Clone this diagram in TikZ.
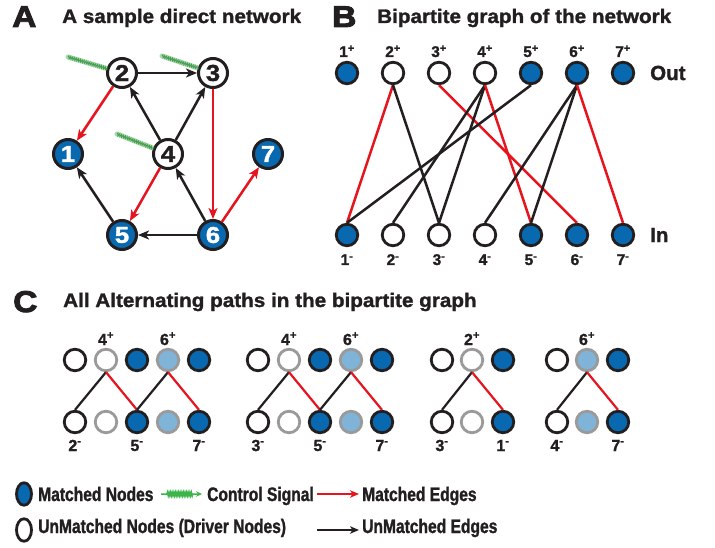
\documentclass[tikz,border=0pt]{standalone}
\usepackage{fontspec}
\setmainfont{Liberation Sans}[BoldFeatures={FakeBold=1.3}]
\newfontfamily\legfont{Liberation Sans}[FakeStretch=0.8,BoldFeatures={FakeBold=1.3}]
\newfontfamily\ttlfont{Liberation Sans}[FakeStretch=1.06,BoldFeatures={FakeBold=1.4}]
\newfontfamily\bigfont{Liberation Sans}[FakeStretch=1.12,BoldFeatures={FakeBold=1.6}]
\newfontfamily\letfont{Liberation Sans}[FakeStretch=1.12,BoldFeatures={FakeBold=3}]
\usetikzlibrary{arrows.meta,decorations.pathmorphing,shapes.geometric}
\definecolor{mblue}{HTML}{0868B0}
\definecolor{lblue}{HTML}{7FB3D8}
\definecolor{mred}{HTML}{E6141E}
\definecolor{mgreen}{HTML}{3DB54A}
\definecolor{mgray}{HTML}{9A9A9A}
\definecolor{ink}{HTML}{231F20}
\begin{document}
\begin{tikzpicture}[x=1pt,y=-1pt,
  every node/.style={text=ink},
  panelletter/.style={anchor=base west,inner sep=0pt,font=\letfont\fontsize{30}{30}\selectfont\bfseries},
  paneltitle/.style={anchor=base west,inner sep=0pt,font=\ttlfont\fontsize{19.5}{19.5}\selectfont\bfseries},
  anode/.style={circle,draw=ink,line width=3pt,minimum size=29pt,inner sep=0pt,font=\bigfont\fontsize{23}{23}\selectfont\bfseries},
  awhite/.style={anode,fill=white},
  ablue/.style={anode,fill=mblue,text=white},
  aedge/.style={draw=ink,line width=2.5pt,-{Stealth[length=11pt,width=9pt,inset=3pt]}},
  aredge/.style={aedge,draw=mred,-{Stealth[length=11pt,width=9pt,inset=3pt,fill=mred]}},
  ctrlblur/.style={line width=5pt,draw=mgreen,opacity=0.45,line cap=round,shorten >=1pt},
  ctrlzig/.style={line width=0.9pt,draw=mgreen!75!black,opacity=0.75,decorate,
     decoration={zigzag,segment length=2pt,amplitude=1.3pt},shorten >=1pt},
  bnode/.style={circle,line width=2.8pt,minimum size=21.5pt,inner sep=0pt},
  bb/.style={bnode,fill=mblue,draw=ink},
  bw/.style={bnode,fill=white,draw=ink},
  gw/.style={bnode,fill=white,draw=mgray},
  gl/.style={bnode,fill=lblue,draw=mgray},
  blabel/.style={anchor=base,inner sep=0pt,font=\fontsize{15.5}{15.5}\selectfont\bfseries},
  clabel/.style={anchor=base,inner sep=0pt,font=\fontsize{16}{16}\selectfont\bfseries},
  iolabel/.style={anchor=west,inner sep=0pt,font=\fontsize{20.5}{20.5}\selectfont\bfseries},
  bedge/.style={draw=ink,line width=2.5pt},
  bredge/.style={draw=mred,line width=2.5pt},
  cedge/.style={draw=ink,line width=2.2pt},
  credge/.style={draw=mred,line width=2.2pt},
  legnode/.style={ellipse,draw=ink,line width=2.8pt,minimum width=15pt,minimum height=22.5pt,inner sep=0pt},
  legtext/.style={anchor=base west,inner sep=0pt,font=\legfont\fontsize{19.5}{19.5}\selectfont\bfseries},
]
\useasboundingbox[fill=white] (0,0) rectangle (715,548);

% ---------- Panel A ----------
\node[panelletter] (pa) at (12,27) {A};
\node[paneltitle] (ta) at (62,23) {A sample direct network};
\node[ablue]  (n1) at (68,154) {1};
\node[awhite] (n2) at (122,73) {2};
\node[awhite] (n3) at (213,73) {3};
\node[awhite] (n4) at (168,154) {4};
\node[ablue]  (n5) at (122,235) {5};
\node[ablue]  (n6) at (213,235) {6};
\node[ablue]  (n7) at (268,154) {7};
\draw[aedge]  (n2) -- (n3);
\draw[aredge] (n2) -- (n1);
\draw[aedge]  (n4) -- (n2);
\draw[aedge]  (n4) -- (n3);
\draw[aredge] (n3) -- (n6);
\draw[aredge] (n4) -- (n5);
\draw[aedge]  (n6) -- (n4);
\draw[aedge]  (n6) -- (n5);
\draw[aedge]  (n5) -- (n1);
\draw[aredge] (n6) -- (n7);
\coordinate (g2) at (68,57);
\coordinate (g3) at (162,56);
\coordinate (g4) at (117,134);
\draw[ctrlblur] (g2) -- (n2); \draw[ctrlzig] (g2) -- (n2);
\draw[ctrlblur] (g3) -- (n3); \draw[ctrlzig] (g3) -- (n3);
\draw[ctrlblur] (g4) -- (n4); \draw[ctrlzig] (g4) -- (n4);

% ---------- Panel B ----------
\node[panelletter] (pb) at (332,27) {B};
\node[paneltitle] (tb) at (377,23) {Bipartite graph of the network};
\node[bb] (t1) at (347,73) {};
\node[bw] (t2) at (393,73) {};
\node[bw] (t3) at (439,73) {};
\node[bw] (t4) at (485,73) {};
\node[bb] (t5) at (531,73) {};
\node[bb] (t6) at (577,73) {};
\node[bb] (t7) at (623,73) {};
\node[bb] (b1) at (347,235) {};
\node[bw] (b2) at (393,235) {};
\node[bw] (b3) at (439,235) {};
\node[bw] (b4) at (485,235) {};
\node[bb] (b5) at (531,235) {};
\node[bb] (b6) at (577,235) {};
\node[bb] (b7) at (623,235) {};
\foreach \i/\x in {1/347,2/393,3/439,4/485,5/531,6/577,7/623}{
  \node[blabel] (lt\i) at (\x,57) {\i\textsuperscript{+}};
  \node[blabel] (lb\i) at (\x,265) {\i\textsuperscript{-}};
}
\node[iolabel] (out) at (650,73) {Out};
\node[iolabel] (in) at (650,235) {In};
\draw[bredge] (t2.south) -- (b1.north);
\draw[bedge]  (t2.south) -- (b3.north);
\draw[bredge] (t3.south) -- (b6.north);
\draw[bedge]  (t4.south) -- (b2.north);
\draw[bedge]  (t4.south) -- (b3.north);
\draw[bredge] (t4.south) -- (b5.north);
\draw[bedge]  (t5.south) -- (b1.north);
\draw[bedge]  (t6.south) -- (b4.north);
\draw[bedge]  (t6.south) -- (b5.north);
\draw[bredge] (t6.south) -- (b7.north);

% ---------- Panel C ----------
\node[panelletter] (pc) at (13,312) {C};
\node[paneltitle] (tc) at (63,307) {All Alternating paths in the bipartite graph};
% group 1
\node[bw] (c1t1) at (75,360) {};
\node[gw] (c1t2) at (106,360) {};
\node[bb] (c1t3) at (137,360) {};
\node[gl] (c1t4) at (168,360) {};
\node[bb] (c1t5) at (199,360) {};
\node[bw] (c1b1) at (75,422) {};
\node[gw] (c1b2) at (106,422) {};
\node[bb] (c1b3) at (137,422) {};
\node[gl] (c1b4) at (168,422) {};
\node[bb] (c1b5) at (199,422) {};
\node[clabel] (c1l1) at (106,345) {4\textsuperscript{+}};
\node[clabel] (c1l2) at (168,345) {6\textsuperscript{+}};
\node[clabel] (c1l3) at (75,451) {2\textsuperscript{-}};
\node[clabel] (c1l4) at (137,451) {5\textsuperscript{-}};
\node[clabel] (c1l5) at (199,451) {7\textsuperscript{-}};
\draw[cedge]  (c1t2.south) -- (c1b1.north);
\draw[credge] (c1t2.south) -- (c1b3.north);
\draw[cedge]  (c1t4.south) -- (c1b3.north);
\draw[credge] (c1t4.south) -- (c1b5.north);
% group 2
\node[bw] (c2t1) at (258,360) {};
\node[gw] (c2t2) at (289,360) {};
\node[bb] (c2t3) at (320,360) {};
\node[gl] (c2t4) at (351,360) {};
\node[bb] (c2t5) at (382,360) {};
\node[bw] (c2b1) at (258,422) {};
\node[gw] (c2b2) at (289,422) {};
\node[bb] (c2b3) at (320,422) {};
\node[gl] (c2b4) at (351,422) {};
\node[bb] (c2b5) at (382,422) {};
\node[clabel] (c2l1) at (289,345) {4\textsuperscript{+}};
\node[clabel] (c2l2) at (351,345) {6\textsuperscript{+}};
\node[clabel] (c2l3) at (258,451) {3\textsuperscript{-}};
\node[clabel] (c2l4) at (320,451) {5\textsuperscript{-}};
\node[clabel] (c2l5) at (382,451) {7\textsuperscript{-}};
\draw[cedge]  (c2t2.south) -- (c2b1.north);
\draw[credge] (c2t2.south) -- (c2b3.north);
\draw[cedge]  (c2t4.south) -- (c2b3.north);
\draw[credge] (c2t4.south) -- (c2b5.north);
% group 3
\node[bw] (c3t1) at (442,360) {};
\node[gw] (c3t2) at (472,360) {};
\node[bb] (c3t3) at (503,360) {};
\node[bw] (c3b1) at (442,422) {};
\node[gw] (c3b2) at (472,422) {};
\node[bb] (c3b3) at (503,422) {};
\node[clabel] (c3l1) at (472,345) {2\textsuperscript{+}};
\node[clabel] (c3l2) at (442,451) {3\textsuperscript{-}};
\node[clabel] (c3l3) at (503,451) {1\textsuperscript{-}};
\draw[cedge]  (c3t2.south) -- (c3b1.north);
\draw[credge] (c3t2.south) -- (c3b3.north);
% group 4
\node[bw] (c4t1) at (557,360) {};
\node[gl] (c4t2) at (587,360) {};
\node[bb] (c4t3) at (618,360) {};
\node[bw] (c4b1) at (557,422) {};
\node[gl] (c4b2) at (587,422) {};
\node[bb] (c4b3) at (618,422) {};
\node[clabel] (c4l1) at (587,345) {6\textsuperscript{+}};
\node[clabel] (c4l2) at (557,451) {4\textsuperscript{-}};
\node[clabel] (c4l3) at (618,451) {7\textsuperscript{-}};
\draw[cedge]  (c4t2.south) -- (c4b1.north);
\draw[credge] (c4t2.south) -- (c4b3.north);

% ---------- Legend ----------
\node[legnode,fill=mblue] (lm) at (24,494) {};
\node[legtext] (lmt) at (38,501) {Matched Nodes};
\coordinate (gs) at (161,494);
\coordinate (ge) at (202,494);
\draw[mgreen,line width=1.5pt,decorate,
  decoration={zigzag,segment length=1.6pt,amplitude=1.6pt,pre length=6pt,post length=9pt},
  -{Stealth[length=6pt,width=5.5pt]}] (gs) -- (ge);
\node[legtext] (lcs) at (207,501) {Control Signal};
\coordinate (rs) at (317,494);
\coordinate (re) at (359,494);
\draw[mred,line width=2.3pt,-{Stealth[length=9pt,width=7.5pt,inset=2.5pt]}] (rs) -- (re);
\node[legtext] (lme) at (362,501) {Matched Edges};
\node[legnode,fill=white] (lu) at (24,530) {};
\node[legtext] (lut) at (38,533) {UnMatched Nodes (Driver Nodes)};
\coordinate (ks) at (317,530);
\coordinate (ke) at (359,530);
\draw[ink,line width=2.3pt,-{Stealth[length=9pt,width=7.5pt,inset=2.5pt]}] (ks) -- (ke);
\node[legtext] (lue) at (362,533) {UnMatched Edges};
\end{tikzpicture}
\end{document}
